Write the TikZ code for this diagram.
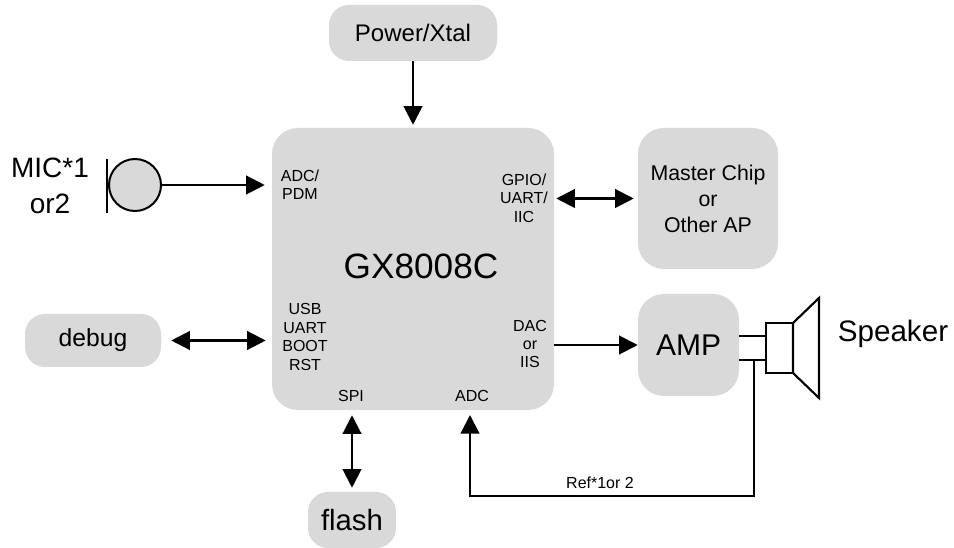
\documentclass[tikz,border=0pt]{standalone}
\usepackage{fontspec}
\setmainfont{Liberation Sans}
\usetikzlibrary{arrows.meta}
\definecolor{boxgray}{HTML}{D9D9D9}
\tikzset{
 tip/.tip={Stealth[length=14pt,width=14pt,inset=0pt]},
 box/.style={fill=boxgray,draw=none,inner sep=0pt,align=center,rounded corners=#1},
 box/.default=19.5pt,
 lab/.style={font=\fontsize{12pt}{13.8pt}\selectfont,align=center,inner sep=0pt},
 conn/.style={line width=1.6pt,-tip},
 bi/.style={line width=1.6pt,tip-tip},
 spkline/.style={line width=1.6pt}}
\begin{document}
\begin{tikzpicture}[x=0.75pt,y=-0.75pt]
\useasboundingbox (0,0) rectangle (954,548);
\fill[white] (0,0) rectangle (954,548);
\node[box=15pt,minimum width=126pt,minimum height=42pt,font=\fontsize{18pt}{21pt}\selectfont] (power) at (413,33) {Power/Xtal};
\node[box,minimum width=211.5pt,minimum height=211.5pt] (chip) at (413,269) {};
\node[inner sep=0pt,font=\fontsize{26.4pt}{30pt}\selectfont] (chiplabel) at (421,266) {GX8008C};
\node[box,minimum width=105pt,minimum height=105.75pt,font=\fontsize{16pt}{19.5pt}\selectfont] (master) at (708,198.5) {Master Chip\\or\\Other AP};
\node[box,minimum width=75.75pt,minimum height=76.5pt,font=\fontsize{22.5pt}{26pt}\selectfont] (amp) at (688.5,345) {AMP};
\node[box=15pt,minimum width=102pt,minimum height=39.75pt,font=\fontsize{18.5pt}{21pt}\selectfont] (debug) at (93,340.5) {debug};
\node[box=15pt,minimum width=66pt,minimum height=42pt,font=\fontsize{22pt}{26pt}\selectfont] (flash) at (352,520) {flash};
\node[lab] (adc1) at (300,185) {ADC/\\PDM};
\node[lab] (gpio) at (524,198) {GPIO/\\UART/\\IIC};
\node[lab] (usb) at (305,337) {USB\\UART\\BOOT\\RST};
\node[lab] (dac) at (530,344) {DAC\\or\\IIS};
\node[lab] (spi) at (351,396) {SPI};
\node[lab] (adc2) at (472,396) {ADC};
\node[inner sep=0pt,align=center,font=\fontsize{21pt}{27.5pt}\selectfont] (miclabel) at (50,186) {MIC*1\\or2};
\node[inner sep=0pt,font=\fontsize{22.2pt}{26pt}\selectfont] (spk) at (893,334) {Speaker};
\node[inner sep=0pt,font=\fontsize{12pt}{14pt}\selectfont] (ref) at (600,483) {Ref*1or 2};
% microphone
\node[circle,draw,line width=1.5pt,fill=boxgray,minimum size=39pt,inner sep=0pt] (mic) at (135,185) {};
\draw[line width=2.2pt] (107,159) -- (107,213);
% connectors
\draw[conn,shorten >=5.25pt] (mic.east) -- (mic.east -| chip.west);
\draw[conn,shorten >=2.25pt] (power.south) -- (chip.north);
\draw[bi,shorten <=1.5pt,shorten >=3pt] (chip.east |- master.west) -- (master.west);
\draw[bi,shorten <=7.5pt,shorten >=4.5pt] (debug.east) -- (debug.east -| chip.west);
\draw[conn] (chip.east |- amp.west) -- (amp.west);
\draw[bi,shorten <=3.75pt,shorten >=3pt] (flash.north |- chip.south) -- (flash.north);
% speaker
\draw[spkline] (amp.east |- 0,336) -- (766,336);
\coordinate (tap) at (754,360);
\draw[spkline] (amp.east |- tap) -- (766,360);
\draw[spkline,fill=white] (766,323) rectangle (793,373);
\draw[spkline,fill=white,line join=miter] (793,323) -- (819,298) -- (819,398) -- (793,373) -- cycle;
\coordinate (foot) at (754,496);
\coordinate (adcfoot) at (470,415);
\draw[conn] (tap) -- (foot) -- (foot -| adcfoot) -- (adcfoot);
\end{tikzpicture}
\end{document}
